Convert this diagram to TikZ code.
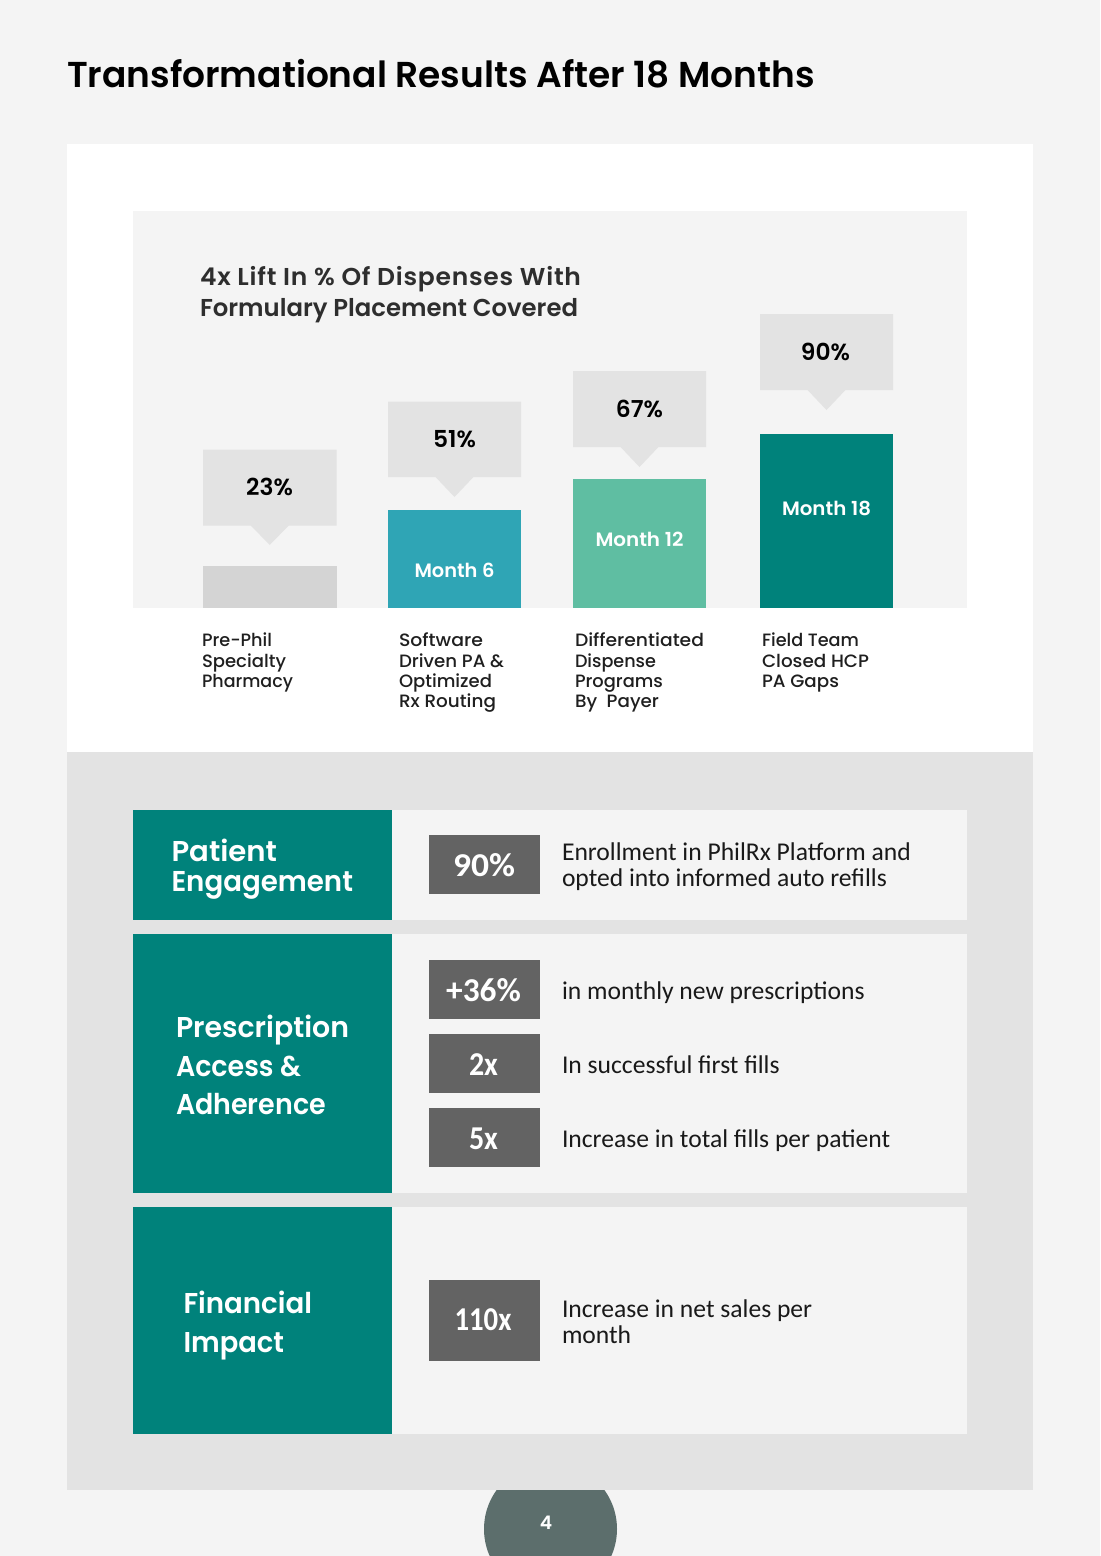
\documentclass[tikz,border=0pt]{standalone}
\usepackage{graphicx}
\usepackage{fontspec}
\setmainfont{Carlito}
\newfontfamily\hd{Poppins Medium}
\newfontfamily\hdb{Poppins SemiBold}
\definecolor{pagebg}{HTML}{F4F4F4}
\definecolor{band}{HTML}{E3E3E3}
\definecolor{teal}{HTML}{00827B}
\definecolor{badge}{HTML}{636363}
\definecolor{pre}{HTML}{D4D4D4}
\definecolor{blue6}{HTML}{2FA5B5}
\definecolor{green12}{HTML}{5FBEA2}
\definecolor{circ}{HTML}{5C6E6C}
\tikzset{
 x=0.75pt,y=-0.75pt,
 lab/.style={anchor=base west,inner sep=0,outer sep=0},
 mid/.style={anchor=base,inner sep=0,outer sep=0},
 titletext/.style={lab,font=\hdb\fontsize{27}{27}\selectfont,text=black},
 ctitle/.style={lab,font=\hdb\fontsize{18.3}{18.3}\selectfont,text=black!82},
 pct/.style={mid,font=\hdb\fontsize{17.5}{17.5}\selectfont,text=black},
 month/.style={mid,font=\hdb\fontsize{14.5}{14.5}\selectfont,text=white},
 captext/.style={lab,font=\hd\fontsize{13.4}{13.4}\selectfont,text=black!88},
 head/.style={lab,font=\hdb\fontsize{21.5}{21.5}\selectfont,text=white},
 big/.style={mid,font=\fontsize{25}{25}\selectfont\bfseries,text=white},
 body/.style={lab,font=\fontsize{19.2}{19.2}\selectfont,text=black!90},
}
\newcommand{\fw}[2]{\resizebox{#1\dimexpr0.75pt\relax}{\height}{#2}}
\newcommand{\callout}[5]{% x0, x1, top, bottom, tip
 \fill[band] (#1,#3) -- (#2,#3) -- (#2,#4) -- ({(#1+#2)/2+19},#4) -- ({(#1+#2)/2},#5) -- ({(#1+#2)/2-19},#4) -- (#1,#4) -- cycle;
}
\begin{document}
\begin{tikzpicture}
\useasboundingbox (0,0) rectangle (1100,1556);
\clip (0,0) rectangle (1100,1556);
\fill[pagebg] (0,0) rectangle (1100,1556);
\fill[circ] (550.5,1529) circle (66.5);
\fill[white] (67,144) rectangle (1033,752);
\fill[band] (67,752) rectangle (1033,1489.5);
\fill[pagebg] (133,211) rectangle (967,608);
\node[titletext] (t) at (67,87) {\fw{748}{Transformational Results After 18 Months}};
\node[ctitle] (c1) at (200,285) {\fw{381}{\addfontfeature{LetterSpace=3}4x Lift In \% Of Dispenses With}};
\node[ctitle] (c2) at (200,316) {\fw{378}{Formulary Placement Covered}};
% bars
\fill[pre] (203,565.5) rectangle (336.5,608);
\fill[blue6] (388,510) rectangle (521,608);
\fill[green12] (573,478.5) rectangle (706,608);
\fill[teal] (760,434) rectangle (893,608);
\callout{203}{336.5}{449.5}{525.5}{545}
\callout{388}{521}{401.5}{477}{497}
\callout{573}{706}{371}{447}{467}
\callout{760}{893}{314}{390}{410}
\node[pct] (p1) at (269.5,495.7) {23\%};
\node[pct] (p2) at (454.5,447.7) {51\%};
\node[pct] (p3) at (639.5,417.2) {67\%};
\node[pct] (p4) at (825.5,360.7) {90\%};
\node[month] (m1) at (454.5,577) {\fw{80}{Month 6}};
\node[month] (m2) at (639.5,546.5) {\fw{88}{Month 12}};
\node[month] (m3) at (826.5,515.5) {\fw{89}{Month 18}};
% captions
\node[captext] (a1) at (202,646.5) {\fw{70}{Pre-Phil}};
\node[captext] (a2) at (202,667) {\fw{84}{Specialty}};
\node[captext] (a3) at (202,687) {\fw{91}{Pharmacy}};
\node[captext] (b1) at (399,646.5) {\fw{84}{Software}};
\node[captext] (b2) at (399,667) {\fw{105}{Driven PA \&}};
\node[captext] (b3) at (399,687) {\fw{93}{Optimized}};
\node[captext] (b4) at (399,707) {\fw{97}{Rx Routing}};
\node[captext] (d1) at (575,646.5) {\fw{129}{Differentiated}};
\node[captext] (d2) at (575,667) {\fw{81}{Dispense}};
\node[captext] (d3) at (575,687) {\fw{88}{Programs}};
\node[captext] (d4) at (575,707) {\fw{84}{By\ \ Payer}};
\node[captext] (e1) at (762,646.5) {\fw{97}{Field Team}};
\node[captext] (e2) at (762,667) {\fw{107}{Closed HCP}};
\node[captext] (e3) at (762,687) {\fw{77}{PA Gaps}};
% rows
\fill[pagebg] (392,809.5) rectangle (967,920);
\fill[pagebg] (392,934) rectangle (967,1192.5);
\fill[pagebg] (392,1207) rectangle (967,1434);
\fill[teal] (133,809.5) rectangle (392,920);
\fill[teal] (133,934) rectangle (392,1192.5);
\fill[teal] (133,1207) rectangle (392,1434);
\node[head] (h1) at (171.5,861) {\fw{105.5}{Patient}};
\node[head] (h2) at (171.5,891) {\fw{181.5}{Engagement}};
\node[head] (h3) at (176,1037) {\fw{173}{Prescription}};
\node[head] (h4) at (176,1076) {\fw{125}{Access \&}};
\node[head] (h5) at (176,1114) {\fw{150}{Adherence}};
\node[head] (h6) at (183.5,1313) {\fw{128.5}{Financial}};
\node[head] (h7) at (183.5,1352) {\fw{100.5}{Impact}};
% badges
\fill[badge] (429,835) rectangle (540,894);
\fill[badge] (429,960) rectangle (540,1019);
\fill[badge] (429,1034) rectangle (540,1093);
\fill[badge] (429,1108) rectangle (540,1167);
\fill[badge] (429,1280) rectangle (540,1361);
\node[big] (v1) at (484,876.7) {\fw{62}{90\%}};
\node[big] (v2) at (483.5,1001.7) {+36\%};
\node[big] (v3) at (483.5,1075.7) {\fw{29}{2x}};
\node[big] (v4) at (483.5,1149.7) {\fw{29}{5x}};
\node[big] (v5) at (483,1330.7) {\fw{57}{110x}};
\node[body] (s1) at (562,860) {Enrollment in PhilRx Platform and};
\node[body] (s2) at (562,886) {opted into informed auto refills};
\node[body] (s3) at (562,999) {in monthly new prescriptions};
\node[body] (s4) at (562,1073) {In successful first fills};
\node[body] (s5) at (562,1147) {Increase in total fills per patient};
\node[body] (s6) at (562,1317) {Increase in net sales per};
\node[body] (s7) at (562,1343) {month};
\node[mid,font=\hdb\fontsize{14}{14}\selectfont,text=white] (pg) at (546,1529) {4};
\end{tikzpicture}
\end{document}
